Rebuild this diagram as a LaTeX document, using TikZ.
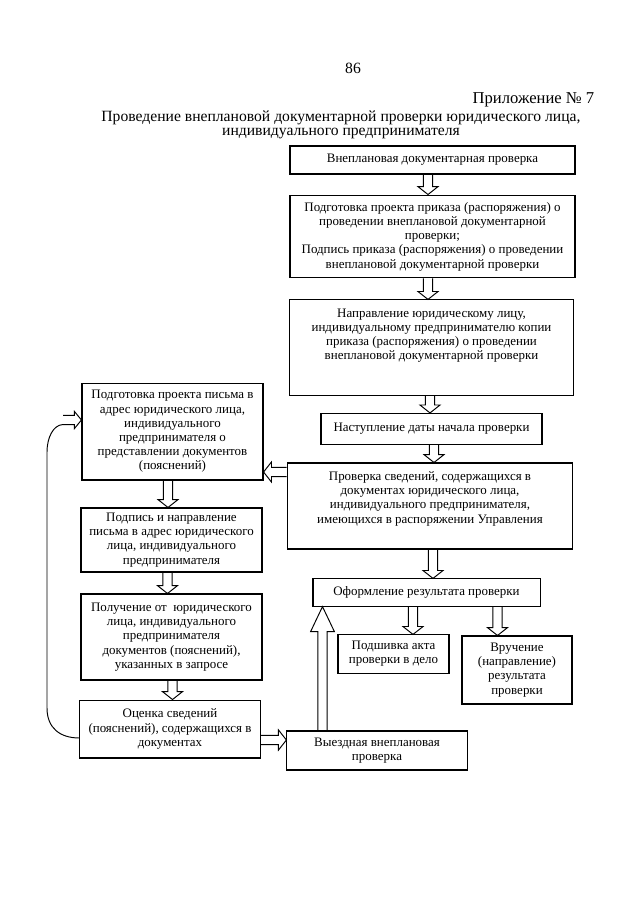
\documentclass[tikz,border=0pt]{standalone}
\usepackage{fontspec}
\setmainfont{Liberation Serif}
\usetikzlibrary{calc}

\tikzset{
  box/.style={draw, line width=1pt, align=center, inner sep=2pt, font=\fontsize{12.1}{13.3}\selectfont},
  head/.style={font=\fontsize{14.6}{13.5}\selectfont, align=center},
  fat/.style={draw, line width=0.9pt, line join=miter},
  fat head/.store in=\fathead, fat head=2.6mm,
  fat wing/.store in=\fatwing, fat wing=3.3mm,
  fat shaft/.store in=\fatshaft, fat shaft=1.5mm,
}

\newcommand{\fatarrow}[3][]{%
  \begin{scope}[#1]
    \coordinate (fatfrom) at (#2);
    \coordinate (fatto) at (#3);
    \coordinate (fatbase) at ($(fatto)!\fathead!(fatfrom)$);
    \draw[fat] ($(fatfrom)!\fatshaft!90:(fatto)$) -- ($(fatbase)!\fatshaft!90:(fatto)$)
      -- ($(fatbase)!\fatwing!90:(fatto)$) -- (fatto)
      -- ($(fatbase)!\fatwing!-90:(fatto)$) -- ($(fatbase)!\fatshaft!-90:(fatto)$)
      -- ($(fatfrom)!\fatshaft!-90:(fatto)$);
  \end{scope}}

\begin{document}
\begin{tikzpicture}[x=0.3281mm, y=-0.3281mm]
            \useasboundingbox (0,0) rectangle (640,905);

            \node[head] (page) at (353,68) {86};
            \node[head, anchor=east, font=\fontsize{15.5}{15}\selectfont] (appx) at (598,100) {Приложение № 7};
            \node[head] (title) at (341,125) {Проведение внеплановой документарной проверки юридического лица,\\индивидуального предпринимателя};

            \node[box, minimum width=93.5mm, minimum height=9.2mm] (b1) at (432.5,160) {Внеплановая документарная проверка};
            \node[box, minimum width=93.5mm, minimum height=27.2mm] (b2) at (432.5,236.5) {Подготовка проекта приказа (распоряжения) о\\проведении внеплановой документарной\\проверки;\\Подпись приказа (распоряжения) о проведении\\внеплановой документарной проверки};
            \node[box, minimum width=92.9mm, minimum height=31.2mm] (b3) at (431.5,347.5) {Направление юридическому лицу,\\индивидуальному предпринимателю копии\\приказа (распоряжения) о проведении\\внеплановой документарной проверки\\[4mm]\mbox{}};
            \node[box, minimum width=72.5mm, minimum height=10.2mm] (b4) at (431.5,429) {Наступление даты начала проверки};
            \node[box, minimum width=93.8mm, minimum height=28.2mm] (b5) at (430,506) {Проверка сведений, содержащихся в\\документах юридического лица,\\индивидуального предпринимателя,\\имеющихся в распоряжении Управления\\[1mm]\mbox{}};
            \node[box, minimum width=74.5mm, minimum height=8.9mm] (b6) at (426.5,592.5) {Оформление результата проверки};
            \node[box, minimum width=36.4mm, minimum height=12.5mm] (b7) at (393.5,654) {Подшивка акта\\проверки в дело};
            \node[box, minimum width=36.1mm, minimum height=22.3mm] (b8) at (517,670) {Вручение\\(направление)\\результата\\проверки};
            \node[box, minimum width=59.1mm, minimum height=12.8mm] (b9) at (377,750.5) {Выездная внеплановая\\проверка};

            \node[box, minimum width=59.4mm, minimum height=31.8mm] (ltr) at (172.5,431.5) {Подготовка проекта письма в\\адрес юридического лица,\\индивидуального\\предпринимателя о\\представлении документов\\(пояснений)};
            \node[box, minimum width=59.4mm, minimum height=21mm] (sgn) at (171.5,540) {Подпись и направление\\письма в адрес юридического\\лица, индивидуального\\предпринимателя};
            \node[box, minimum width=59.4mm, minimum height=28.2mm] (rcv) at (171.5,637) {Получение от~ юридического\\лица, индивидуального\\предпринимателя\\документов (пояснений),\\указанных в запросе};
            \node[box, minimum width=59.1mm, minimum height=19mm] (est) at (170,729) {Оценка сведений\\(пояснений), содержащихся в\\документах};

            \fatarrow{428,0 |- b1.south}{428,0 |- b2.north}
            \fatarrow{428,0 |- b2.south}{428,0 |- b3.north}
            \fatarrow{430,0 |- b3.south}{430,0 |- b4.north}
            \fatarrow{434,0 |- b4.south}{434,0 |- b5.north}
            \fatarrow{433,0 |- b5.south}{433,0 |- b6.north}
            \fatarrow{413,0 |- b6.south}{413,0 |- b7.north}
            \fatarrow{497.5,0 |- b6.south}{497.5,0 |- b8.north}
            \fatarrow{168,0 |- ltr.south}{168,0 |- sgn.north}
            \fatarrow{167.5,0 |- sgn.south}{167.5,0 |- rcv.north}
            \fatarrow{172.5,0 |- rcv.south}{172.5,0 |- est.north}
            \fatarrow{b5.west |- 0,472}{ltr.east |- 0,472}
            \fatarrow{est.east |- 0,740}{b9.west |- 0,740}
            \fatarrow[fat head=8.2mm, fat wing=3.9mm]{322.5,0 |- b9.north}{322.5,0 |- b6.south}

            \coordinate (back) at (63,420);
            \fatarrow[fat head=2.3mm, fat wing=2.8mm]{back}{ltr.west |- back}
            \draw[fat] (est.west |- 0,738) .. controls (60,738) and (47,728) .. (47,708)
              -- (47,452) .. controls (47,438) and (53,425) .. ($(back)+(0,4.5)$);
\end{tikzpicture}
\end{document}
